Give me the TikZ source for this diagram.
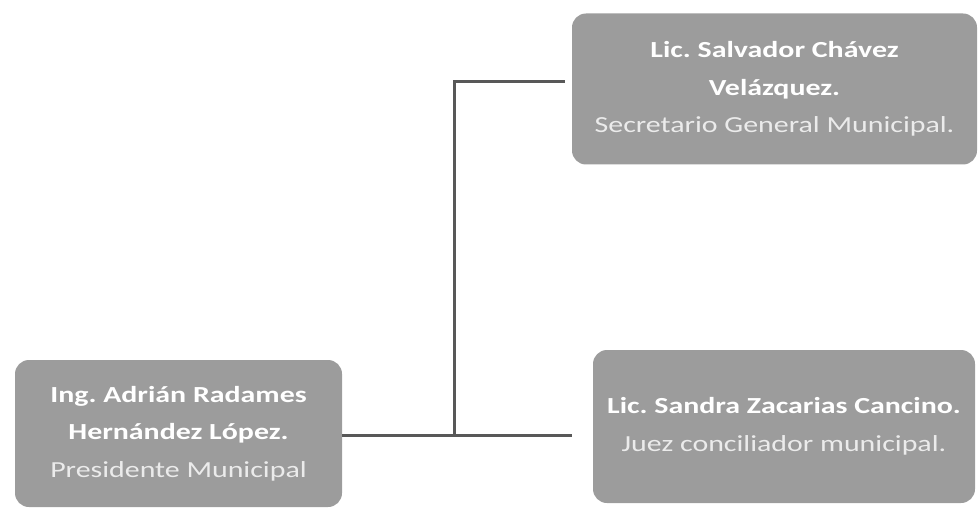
\documentclass[tikz,border=0pt]{standalone}
\usepackage{fontspec}
\setmainfont{Carlito}[FakeStretch=1.3]
\usetikzlibrary{positioning}
\frenchspacing

\definecolor{boxgray}{RGB}{156,156,156}
\definecolor{linegray}{RGB}{88,88,88}
\definecolor{titlewhite}{RGB}{235,235,235}

\begin{document}
\begin{tikzpicture}[
            x=1pt, y=-1pt,
            box/.style={
                fill=boxgray,
                rounded corners=14pt,
                text=white,
                align=center,
                inner sep=0pt,
                font=\fontsize{23}{37.5}\selectfont
            },
            link/.style={draw=linegray, line width=3pt}
        ]
        \useasboundingbox (0,0) rectangle (980,508);

        \node[box, minimum width=405pt, minimum height=151pt] (sec) at (774.5,89)
            {\textbf{Lic. Salvador Chávez}\\ \textbf{Velázquez.}\\ \textcolor{titlewhite}{Secretario General Municipal.}};
        \node[box, minimum width=327pt, minimum height=147pt] (pres) at (178.5,433.5)
            {\textbf{Ing. Adrián Radames}\\ \textbf{Hernández López.}\\ \textcolor{titlewhite}{Presidente Municipal}};
        \node[box, minimum width=382pt, minimum height=153pt] (juez) at (784,426.5)
            {\textbf{Lic. Sandra Zacarias Cancino.}\\ \textcolor{titlewhite}{Juez conciliador municipal.}};

        \coordinate (junc) at (454,435);
        \coordinate (elbow) at (454,82);

        \draw[link] (pres.east |- junc) -- (junc) -- (elbow) -- ([xshift=-7pt]sec.west |- elbow);
        \draw[link] (junc) -- ([xshift=-21pt]juez.west |- junc);
        \end{tikzpicture}
\end{document}
